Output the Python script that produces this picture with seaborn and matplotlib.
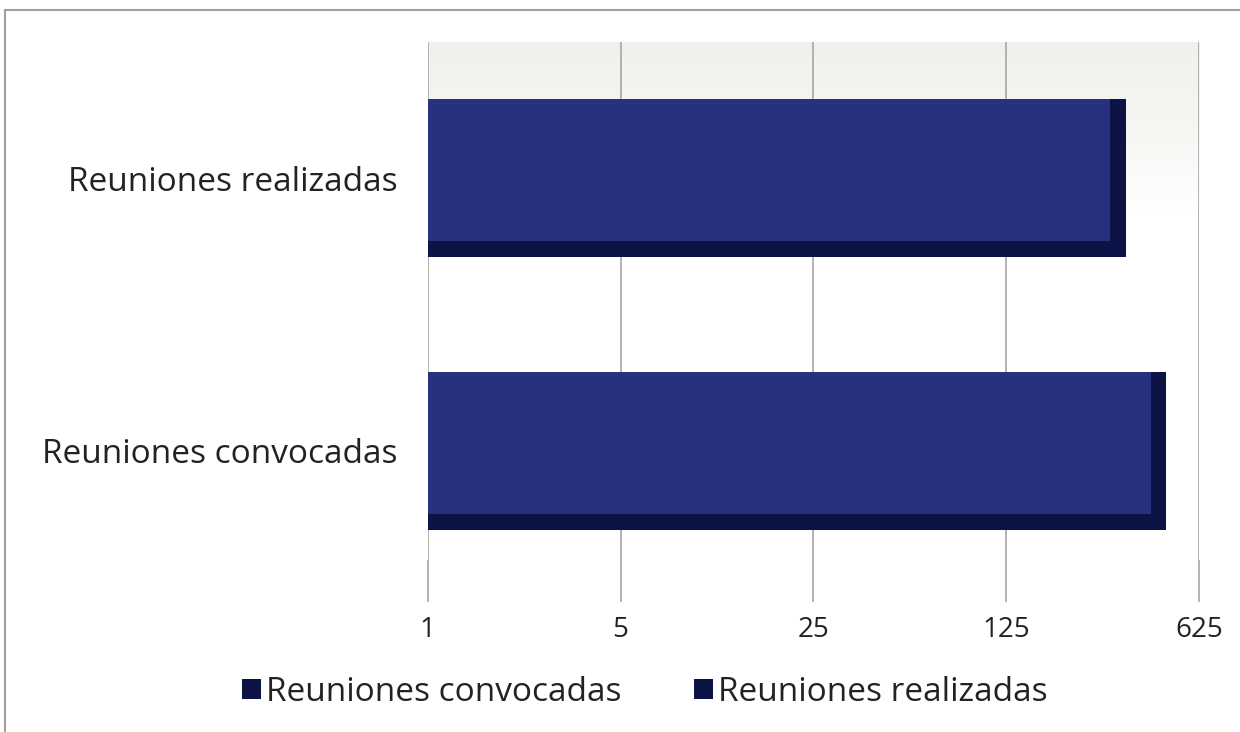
import numpy as np
import pandas as pd
import seaborn as sns
import matplotlib.pyplot as plt
from matplotlib.patches import Rectangle

categorias = ["Reuniones realizadas", "Reuniones convocadas"]
valores = [340, 475]
ticks = [1, 5, 25, 125, 625]

sns.set_style("white")
plt.rcParams['font.family'] = ['Open Sans', 'DejaVu Sans']

df = pd.DataFrame({"Categoria": categorias, "Valor": valores})

fig = plt.figure(figsize=(12.4, 7.32), dpi=100)
ax = fig.add_axes([0.345, 0.235, 0.622, 0.708])

oscuro = "#0c1446"
claro = "#27317f"

# fondo con degradado arriba
grad = np.linspace(0, 1, 256).reshape(-1, 1)
ax.imshow(grad, extent=[0, 1, 0, 1], transform=ax.transAxes, aspect="auto",
          cmap=sns.blend_palette(["#ffffff"] * 5 + ["#f6f6f3", "#f0f0ec"], as_cmap=True),
          origin="lower", zorder=0)

sns.barplot(data=df, x="Valor", y="Categoria", hue="Categoria", saturation=1,
            palette=[oscuro, oscuro], width=0.58, ax=ax, zorder=3, legend=True,
            linewidth=0)
n = len(ax.patches)
sns.barplot(data=df, x="Valor", y="Categoria", hue="Categoria", saturation=1,
            palette=[claro, claro], width=0.58, ax=ax, zorder=4, legend=False,
            linewidth=0)

# bisel: la parte clara algo mas corta y mas baja
for p in ax.patches[n:]:
    x0 = p.get_x()
    x1 = p.get_x() + p.get_width()
    p.set_width(x1 / 1.14 - x0)
    p.set_height(p.get_height() * 0.9)

ax.set_xscale("log", base=5)
ax.set_xlim(1, 625)
ax.set_ylim(1.4, -0.5)
ax.set_xticks(ticks)
ax.set_xticklabels([str(t) for t in ticks])
ax.xaxis.grid(True, color="#a6a6a6", linewidth=1.2, zorder=1)
ax.set_axisbelow(True)
ax.minorticks_off()
ax.tick_params(axis="x", bottom=True, length=30, width=1.2, color="#a6a6a6",
               labelsize=20, labelcolor="#222222", pad=10)
ax.tick_params(axis="y", left=False, length=0, labelsize=24, labelcolor="#222222", pad=22)
for s in ax.spines.values():
    s.set_visible(False)
ax.set_xlabel("")
ax.set_ylabel("")

h, l = ax.get_legend_handles_labels()
leg = ax.legend(h[::-1], l[::-1], loc="center", bbox_to_anchor=(0.52, 0.054),
                bbox_transform=fig.transFigure,
                ncol=2, frameon=False, fontsize=24, handlelength=0.55, handleheight=0.55,
                handletextpad=0.15, columnspacing=2.2, labelcolor="#222222")

# marco exterior
fig.patches.append(Rectangle((0.004, -0.1), 1.2, 1.086, transform=fig.transFigure,
                             fill=False, edgecolor="#a0a0a0", linewidth=1.5))

plt.savefig("out.png", dpi=100)
